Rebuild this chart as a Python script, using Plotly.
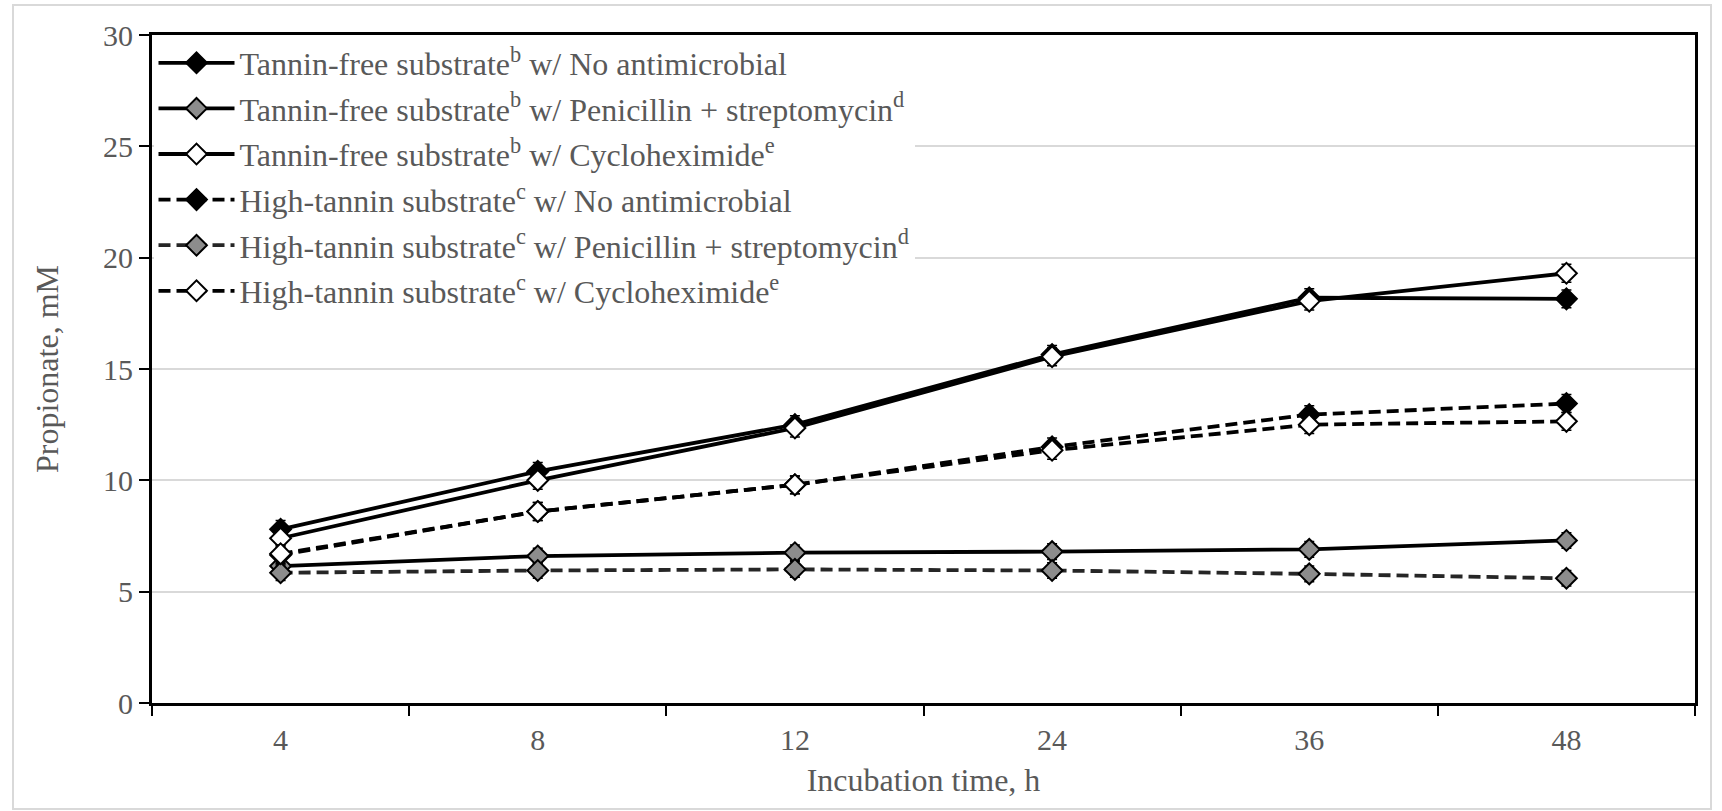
import plotly.graph_objects as go

# Incubation times (h), plotted as evenly spaced categories
hours = ["4", "8", "12", "24", "36", "48"]

# Propionate concentration (mM) per substrate / antimicrobial treatment
tf_none = [7.8, 10.4, 12.5, 15.65, 18.2, 18.15]
tf_penstrep = [6.15, 6.6, 6.75, 6.8, 6.9, 7.3]
tf_cyclo = [7.4, 10.0, 12.35, 15.55, 18.05, 19.3]
ht_none = [6.65, 8.6, 9.8, 11.5, 12.95, 13.45]
ht_penstrep = [5.85, 5.95, 6.0, 5.95, 5.8, 5.6]
ht_cyclo = [6.7, 8.6, 9.8, 11.35, 12.5, 12.65]

# Standard errors (mM)
tf_none_se = [0.4, 0.4, 0.4, 0.4, 0.4, 0.4]
tf_penstrep_se = [0.35, 0.35, 0.35, 0.35, 0.35, 0.35]
tf_cyclo_se = [0.4, 0.4, 0.4, 0.4, 0.4, 0.4]
ht_none_se = [0.4, 0.4, 0.4, 0.4, 0.4, 0.4]
ht_penstrep_se = [0.35, 0.35, 0.35, 0.35, 0.35, 0.35]
ht_cyclo_se = [0.4, 0.4, 0.4, 0.4, 0.4, 0.4]

series_names = [
    "Tannin-free substrate<sup>b</sup> w/ No antimicrobial",
    "Tannin-free substrate<sup>b</sup> w/ Penicillin + streptomycin<sup>d</sup>",
    "Tannin-free substrate<sup>b</sup> w/ Cycloheximide<sup>e</sup>",
    "High-tannin substrate<sup>c</sup> w/ No antimicrobial",
    "High-tannin substrate<sup>c</sup> w/ Penicillin + streptomycin<sup>d</sup>",
    "High-tannin substrate<sup>c</sup> w/ Cycloheximide<sup>e</sup>",
]

FONT = "Liberation Serif, Times New Roman, serif"
TEXT = "#595959"

styles = [
    # (values, errors, line colour, dash, marker fill)
    (tf_none, tf_none_se, "black", "solid", "black"),
    (tf_penstrep, tf_penstrep_se, "black", "solid", "#8c8c8c"),
    (tf_cyclo, tf_cyclo_se, "black", "solid", "white"),
    (ht_none, ht_none_se, "black", "12px,6px", "black"),
    (ht_penstrep, ht_penstrep_se, "#262626", "12px,6px", "#8c8c8c"),
    (ht_cyclo, ht_cyclo_se, "black", "12px,6px", "white"),
]

fig = go.Figure()
for i, (name, (vals, errs, lc, dash, fill)) in enumerate(zip(series_names, styles)):
    fig.add_trace(go.Scatter(
        x=hours, y=vals, name=name, mode="lines+markers",
        legendgroup=f"g{i}",
        line=dict(color=lc, width=3.8, dash=dash),
        marker=dict(symbol="diamond", size=16, color=fill,
                    line=dict(color="black", width=2)),
        error_y=dict(type="data", array=errs, visible=True,
                     color="black", thickness=1.5, width=5),
    ))

# light outer frame around the whole chart
L, R, T, B = 152, 1695, 35, 703
W, H = R - L, B - T
def px(x):
    return (x - L) / W
def py(y):
    return (B - y) / H
fig.add_shape(type="rect", xref="paper", yref="paper",
              x0=px(13), x1=px(1711), y0=py(809), y1=py(5),
              line=dict(color="#d9d9d9", width=2), layer="below")

fig.update_layout(
    width=1722, height=811,
    margin=dict(l=L, r=1722 - R, t=T, b=811 - B),
    paper_bgcolor="white", plot_bgcolor="white",
    font=dict(family=FONT, size=30, color=TEXT),
    showlegend=True,
    legend=dict(
        x=px(153.5), y=py(35.5), xanchor="left", yanchor="top",
        bgcolor="white", borderwidth=0,
        font=dict(family=FONT, size=32, color=TEXT),
        itemwidth=76, tracegroupgap=1, traceorder="grouped",
    ),
    xaxis=dict(
        type="category", categoryorder="array", categoryarray=hours,
        range=[-0.5, 5.5],
        showline=True, linecolor="black", linewidth=3, mirror=True,
        ticks="outside", tickson="boundaries", ticklen=10, tickwidth=2,
        tickcolor="black", showgrid=False,
        tickfont=dict(family=FONT, size=30, color=TEXT),
        ticklabelstandoff=8,
        title=dict(text="Incubation time, h",
                   font=dict(family=FONT, size=32, color=TEXT), standoff=14),
    ),
    yaxis=dict(
        range=[0, 30], dtick=5, tick0=0,
        showline=True, linecolor="black", linewidth=3, mirror=True,
        ticks="outside", ticklen=10, tickwidth=2, tickcolor="black",
        showgrid=True, gridcolor="#d9d9d9", gridwidth=2, zeroline=False,
        tickfont=dict(family=FONT, size=30, color=TEXT),
        ticklabelstandoff=0,
        title=dict(text="Propionate, mM",
                   font=dict(family=FONT, size=32, color=TEXT), standoff=35),
    ),
)

fig.write_html("out.html")
